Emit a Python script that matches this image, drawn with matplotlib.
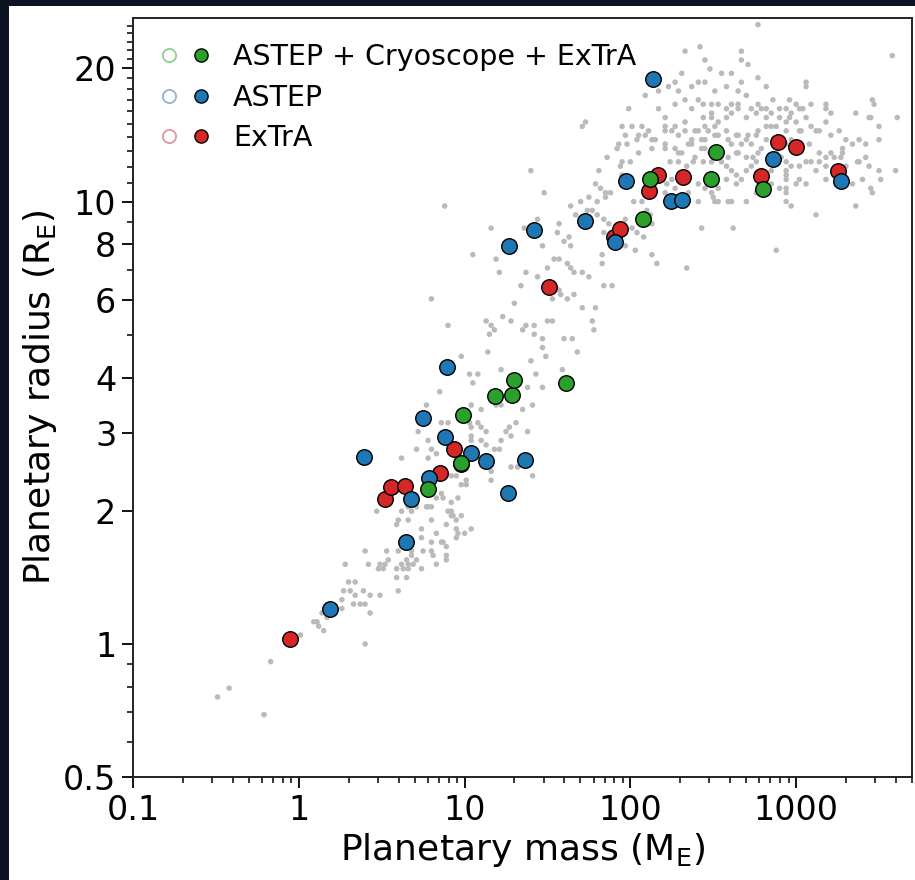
import numpy as np
import matplotlib
matplotlib.use("Agg")
import matplotlib.pyplot as plt
from matplotlib.lines import Line2D
from matplotlib.legend_handler import HandlerTuple
from matplotlib.patches import Rectangle
from matplotlib.ticker import FixedLocator, LogLocator, NullFormatter

plt.rcParams['font.family'] = ['DejaVu Sans']
plt.rcParams['mathtext.default'] = 'regular'

# ---- follow-up samples (mass in Earth masses, radius in Earth radii) ----
both_mass = [6.0, 9.5, 9.8, 15.2, 19.4, 20.0, 40.8, 119, 131, 307, 327, 631]
both_radius = [2.24, 2.57, 3.29, 3.64, 3.65, 3.96, 3.88, 9.14, 11.25, 11.27, 12.94, 10.68]

astep_mass = [1.54, 4.46, 4.72, 2.49, 6.08, 9.58, 10.9, 13.4, 18.3, 23.3, 7.57, 5.62,
              7.84, 18.5, 26.4, 53.1, 80.5, 94.2, 175, 205, 137, 722, 1876]
astep_radius = [1.20, 1.70, 2.125, 2.64, 2.37, 2.55, 2.70, 2.59, 2.19, 2.61, 2.93, 3.24,
                4.22, 7.95, 8.64, 9.06, 8.09, 11.16, 10.05, 10.09, 18.9, 12.50, 11.16]

extra_mass = [0.882, 3.33, 3.60, 4.40, 7.08, 8.69, 32.2, 79.4, 86.3, 129, 146, 208,
              614, 774, 999, 1790]
extra_radius = [1.028, 2.125, 2.26, 2.27, 2.43, 2.76, 6.40, 8.33, 8.67, 10.55, 11.51, 11.35,
                11.45, 13.62, 13.27, 11.71]

# ---- known planets, (log10 mass, log10 radius) ----
grey_rocky = [
    (-0.49, -0.12), (-0.42, -0.10), (-0.21, -0.16), (-0.17, -0.04), (0.01, 0.02), (0.09, 0.05),
    (0.11, 0.05), (0.12, 0.04), (0.15, 0.03), (0.14, 0.07), (0.17, 0.06), (0.26, 0.08),
    (0.26, 0.10), (0.27, 0.12), (0.31, 0.12), (0.30, 0.14), (0.34, 0.14), (0.33, 0.09),
    (0.37, 0.09), (0.40, 0.09), (0.34, 0.11), (0.39, 0.12), (0.43, 0.11), (0.49, 0.11),
    (0.43, 0.07), (0.40, 0.00), (0.60, 0.12), (0.28, 0.18), (0.42, 0.18), (0.40, 0.21),
    (0.49, 0.18), (0.52, 0.18), (0.54, 0.19), (0.48, 0.17), (0.51, 0.17), (0.53, 0.21),
    (0.60, 0.21), (0.59, 0.17), (0.62, 0.18), (0.65, 0.19), (0.66, 0.18), (0.69, 0.18),
    (0.71, 0.19), (0.63, 0.17), (0.66, 0.17), (0.65, 0.15), (0.59, 0.15), (0.68, 0.21),
    (0.74, 0.17), (0.74, 0.24), (0.80, 0.23), (0.83, 0.25), (0.75, 0.21), (0.81, 0.20),
    (0.83, 0.18), (0.89, 0.19), (0.86, 0.23), (0.89, 0.22), (0.89, 0.27), (0.95, 0.28),
    (0.98, 0.29), (0.95, 0.26), (1.00, 0.25), (1.04, 0.26), (0.92, 0.30), (0.92, 0.29),
    (0.95, 0.24), (0.74, 0.26), (0.80, 0.28), (0.60, 0.28), (0.66, 0.28), (0.62, 0.30),
    (0.66, 0.31), (0.71, 0.31), (0.77, 0.31), (0.80, 0.31), (0.47, 0.30), (0.92, 0.32),
    (0.96, 0.33), (1.01, 0.36), (0.87, 0.33), (0.86, 0.34), (1.16, 0.37), (0.68, 0.20),
    (0.80, 0.21), (0.87, 0.23), (0.89, 0.20), (0.96, 0.25), (0.59, 0.27), (0.68, 0.30),
    (0.78, 0.31), (0.90, 0.30), (0.93, 0.29),
]

grey_neptunes = [
    (1.47, 0.67), (1.49, 0.65), (1.14, 0.66), (0.98, 0.65), (1.22, 0.62), (1.40, 0.64),
    (1.43, 0.61), (1.59, 0.62), (1.03, 0.61), (1.08, 0.61), (1.05, 0.59), (0.85, 0.57),
    (0.77, 0.54), (1.10, 0.53), (1.19, 0.54), (1.22, 0.54), (1.35, 0.53), (1.41, 0.54),
    (1.38, 0.58), (1.47, 0.58), (1.04, 0.54), (0.86, 0.50), (0.90, 0.50), (0.72, 0.48),
    (1.03, 0.50), (1.04, 0.49), (1.08, 0.50), (1.10, 0.49), (1.13, 0.48), (1.27, 0.49),
    (1.31, 0.50), (1.38, 0.48), (1.25, 0.48), (1.28, 0.47), (1.22, 0.46), (1.04, 0.47),
    (1.04, 0.46), (1.10, 0.46), (1.13, 0.45), (1.18, 0.44), (1.21, 0.44), (0.78, 0.46),
    (0.80, 0.44), (0.83, 0.43), (0.78, 0.42), (0.71, 0.44), (0.62, 0.42), (0.89, 0.38),
    (0.92, 0.38), (0.95, 0.38), (0.98, 0.36), (1.01, 0.37), (1.16, 0.39), (1.28, 0.40),
    (1.32, 0.40), (1.41, 0.38), (0.83, 0.33),
]

grey_subsaturns = [
    (0.88, 0.99), (1.16, 0.94), (1.36, 0.94), (1.44, 0.96), (1.57, 0.95), (1.64, 0.99),
    (1.70, 1.00), (1.67, 0.97), (1.74, 0.98), (1.47, 0.90), (1.60, 0.91), (1.63, 0.92),
    (1.64, 0.90), (1.05, 0.88), (1.19, 0.87), (1.21, 0.84), (1.37, 0.84), (1.44, 0.83),
    (1.50, 0.85), (1.54, 0.87), (1.57, 0.87), (1.62, 0.86), (1.64, 0.85), (1.66, 0.84),
    (1.75, 0.83), (1.83, 0.88), (1.83, 0.86), (1.84, 0.81), (1.89, 0.81), (0.80, 0.78),
    (1.34, 0.81), (1.30, 0.77), (1.53, 0.78), (1.58, 0.79), (1.62, 0.78), (1.66, 0.79),
    (1.71, 0.76), (1.79, 0.76), (0.90, 0.72), (1.13, 0.73), (1.16, 0.72), (1.18, 0.71),
    (1.23, 0.74), (1.28, 0.73), (1.35, 0.71), (1.37, 0.72), (1.42, 0.72), (1.50, 0.73),
    (1.53, 0.73), (1.15, 0.70), (1.42, 0.70), (1.47, 0.69), (1.60, 0.69), (1.65, 0.69),
    (1.77, 0.73), (1.78, 0.71), (1.68, 0.66), (1.71, 0.84), (1.57, 0.80), (1.56, 0.93),
]

grey_giants_inner = [
    (1.73, 1.18), (1.71, 1.17), (1.95, 1.17), (2.07, 1.17), (1.97, 1.15), (2.04, 1.14),
    (2.09, 1.15), (2.13, 1.14), (1.93, 1.13), (1.98, 1.13), (1.86, 1.10), (1.95, 1.09),
    (2.00, 1.09), (1.94, 1.08), (1.95, 1.06), (1.40, 1.07), (1.81, 1.07), (1.79, 1.04),
    (1.82, 1.03), (1.85, 1.02), (1.48, 1.02), (1.80, 1.00), (1.85, 1.01), (1.88, 1.02),
    (2.02, 1.00), (2.07, 1.00), (2.10, 0.98), (1.75, 1.01), (1.77, 0.98), (1.80, 0.97),
    (1.84, 0.96), (1.87, 0.95), (1.84, 0.93), (1.97, 0.96), (2.01, 0.94), (2.04, 0.93),
    (2.08, 0.92), (2.13, 0.95), (2.12, 0.97), (1.97, 0.90), (2.03, 0.89), (2.13, 0.88),
    (2.16, 0.86), (2.34, 0.85), (2.43, 0.94), (2.21, 1.17), (2.25, 1.16), (2.29, 1.15),
    (2.33, 1.16), (2.37, 1.14), (2.41, 1.16), (2.45, 1.14), (2.51, 1.17), (2.21, 1.12),
    (2.27, 1.12), (2.31, 1.11), (2.35, 1.13), (2.39, 1.10), (2.43, 1.12), (2.48, 1.11),
    (2.24, 1.09), (2.29, 1.09), (2.34, 1.08), (2.38, 1.09), (2.25, 1.05), (2.41, 1.04),
    (2.45, 1.03), (2.22, 1.04), (2.27, 1.03), (2.35, 1.02), (2.49, 1.02), (2.53, 1.00),
    (2.33, 0.99), (2.21, 1.02), (2.41, 1.00),
]

grey_giants_outer = [
    (2.44, 1.22), (2.49, 1.22), (2.53, 1.22), (2.58, 1.21), (2.61, 1.22), (2.44, 1.19),
    (2.49, 1.19), (2.53, 1.18), (2.58, 1.19), (2.61, 1.20), (2.65, 1.21), (2.70, 1.19),
    (2.73, 1.21), (2.76, 1.20), (2.82, 1.21), (2.85, 1.20), (2.86, 1.23), (2.90, 1.21),
    (2.94, 1.21), (3.00, 1.22), (3.04, 1.21), (3.09, 1.22), (3.18, 1.22), (3.21, 1.20),
    (3.36, 1.20), (3.45, 1.19), (3.50, 1.17), (3.61, 1.19), (3.47, 1.22), (3.00, 1.18),
    (3.03, 1.16), (3.12, 1.16), (3.18, 1.18), (2.94, 1.18), (2.88, 1.17), (2.82, 1.17),
    (2.77, 1.16), (2.71, 1.15), (2.65, 1.15), (2.59, 1.14), (2.53, 1.15), (2.47, 1.16),
    (2.43, 1.14), (2.61, 1.13), (2.67, 1.13), (2.73, 1.13), (2.79, 1.12), (2.65, 1.11),
    (2.70, 1.10), (2.74, 1.10), (2.59, 1.10), (2.45, 1.12), (2.44, 1.09), (2.49, 1.09),
    (2.55, 1.09), (2.58, 1.08), (2.61, 1.07), (2.64, 1.06), (2.70, 1.07), (2.73, 1.08),
    (2.76, 1.09), (2.91, 1.10), (2.94, 1.09), (2.94, 1.07), (2.97, 1.08), (3.02, 1.08),
    (3.06, 1.09), (3.09, 1.09), (3.14, 1.09), (3.18, 1.10), (3.23, 1.10), (3.28, 1.11),
    (3.18, 1.08), (2.94, 1.05), (3.02, 1.05), (3.06, 1.04), (2.90, 1.03), (2.94, 1.03),
    (2.85, 1.07), (2.67, 1.05), (2.64, 1.04), (2.58, 1.05), (2.53, 1.03), (2.50, 1.01),
    (2.51, 1.00), (2.59, 1.00), (2.61, 1.00), (2.70, 1.00), (2.76, 1.02), (2.97, 0.99),
    (3.12, 0.97), (3.36, 0.99), (3.18, 1.05), (3.24, 1.04), (3.34, 1.04), (3.40, 1.05),
    (3.51, 1.05), (3.50, 1.07), (3.60, 1.07), (3.45, 1.03), (3.46, 1.02), (3.42, 1.10),
    (3.38, 1.09), (3.44, 1.08), (2.62, 0.94), (2.88, 0.89),
]

grey_giants_top = [
    (2.77, 1.40), (3.58, 1.33), (2.33, 1.34), (2.42, 1.35), (2.67, 1.34), (2.67, 1.32),
    (2.45, 1.32), (2.48, 1.30), (2.55, 1.29), (2.61, 1.29), (2.67, 1.27), (2.71, 1.31),
    (2.31, 1.29), (2.27, 1.27), (2.23, 1.26), (2.29, 1.25), (2.37, 1.26), (2.41, 1.27),
    (2.45, 1.27), (2.51, 1.25), (2.58, 1.26), (2.65, 1.25), (2.70, 1.24), (2.77, 1.28),
    (2.82, 1.26), (3.06, 1.27), (3.06, 1.26), (2.09, 1.24), (2.17, 1.25), (1.99, 1.21),
    (3.46, 1.23), (3.44, 1.19), (3.50, 1.14), (3.18, 1.21), (3.02, 1.21), (2.97, 1.20),
    (2.96, 1.19), (2.17, 1.21), (2.21, 1.19), (2.27, 1.22), (2.33, 1.23), (2.37, 1.21),
    (2.41, 1.23), (2.49, 1.20), (2.65, 1.22), (2.77, 1.22), (2.82, 1.19), (2.85, 1.17),
    (2.90, 1.19), (2.94, 1.16), (3.02, 1.16), (3.06, 1.19), (3.09, 1.17), (3.14, 1.16),
    (3.21, 1.15), (3.26, 1.16), (3.30, 1.14), (3.34, 1.13), (3.38, 1.14), (3.42, 1.13),
    (2.01, 1.17), (2.05, 1.15), (2.11, 1.16), (2.15, 1.14), (2.21, 1.16), (2.27, 1.17),
    (2.33, 1.18), (2.39, 1.16), (2.45, 1.17), (2.51, 1.15), (2.58, 1.16), (2.64, 1.15),
    (2.70, 1.14), (2.76, 1.15), (2.82, 1.14), (2.88, 1.11), (2.94, 1.13), (2.97, 1.14),
    (2.05, 1.11), (2.13, 1.12), (2.21, 1.13), (2.29, 1.11), (2.37, 1.13), (2.64, 1.11),
    (2.77, 1.11), (3.08, 1.13), (3.14, 1.11), (3.21, 1.11), (3.28, 1.12), (1.92, 1.12),
    (3.37, 1.09), (3.27, 1.10), (3.30, 1.08), (2.94, 1.06), (3.00, 1.04), (3.12, 1.07),
    (2.85, 1.04), (2.94, 1.02), (2.94, 1.00), (2.96, 1.23), (2.79, 1.21),
]

x_ticks = [0.1, 1, 10, 100, 1000]
x_ticklabels = ['0.1', '1', '10', '100', '1000']
y_ticks = [0.5, 1, 2, 3, 4, 6, 8, 10, 20]
y_ticklabels = ['0.5', '1', '2', '3', '4', '6', '8', '10', '20']
y_minor = [0.6, 0.7, 0.8, 0.9, 5, 7, 9] + list(range(11, 20)) + list(range(21, 26))

GREEN = '#2ca02c'
BLUE = '#1f77b4'
RED = '#d62728'

fig = plt.figure(figsize=(9.15, 8.8), dpi=100)
fig.patch.set_facecolor('#0c1222')
# white panel the chart sits on
fig.patches.append(Rectangle((9 / 915, 0), 1, 874 / 880, transform=fig.transFigure,
                             facecolor='white', edgecolor='none', zorder=-10))

ax = fig.add_axes([0.1454, 0.117, 0.8513, 0.8625])
ax.set_zorder(1)

known = np.array(grey_rocky + grey_neptunes + grey_subsaturns + grey_giants_inner
                 + grey_giants_outer + grey_giants_top)
ax.scatter(10 ** known[:, 0], 10 ** known[:, 1], s=16, color='#bababa',
           edgecolors='none', zorder=1)

ax.scatter(extra_mass, extra_radius, s=125, color=RED, edgecolors='black',
           linewidths=1, zorder=3)
ax.scatter(astep_mass, astep_radius, s=125, color=BLUE, edgecolors='black',
           linewidths=1, zorder=4)
ax.scatter(both_mass, both_radius, s=125, color=GREEN, edgecolors='black',
           linewidths=1, zorder=5)

ax.set_xscale('log')
ax.set_yscale('log')
ax.set_xlim(0.1, 5000)
ax.set_ylim(0.5, 26)

ax.xaxis.set_major_locator(FixedLocator(x_ticks))
ax.set_xticklabels(x_ticklabels)
ax.xaxis.set_minor_locator(LogLocator(base=10, subs=np.arange(2, 10)))
ax.xaxis.set_minor_formatter(NullFormatter())
ax.yaxis.set_major_locator(FixedLocator(y_ticks))
ax.set_yticklabels(y_ticklabels)
ax.yaxis.set_minor_locator(FixedLocator(y_minor))
ax.yaxis.set_minor_formatter(NullFormatter())

ax.tick_params(which='major', length=8, width=1.3, labelsize=24, pad=4)
ax.tick_params(which='minor', length=4.5, width=1.1)
for sp in ax.spines.values():
    sp.set_linewidth(1.4)
    sp.set_color('#222222')

ax.set_xlabel('Planetary mass (M$_\\mathrm{E}$)', fontsize=26, labelpad=3)
ax.set_ylabel('Planetary radius (R$_\\mathrm{E}$)', fontsize=26, labelpad=3)

handles = []
for col, pale in [(GREEN, '#8fcf8f'), (BLUE, '#8fb3d4'), (RED, '#d99a9b')]:
    open_m = Line2D([], [], marker='o', ls='', ms=9.5, mfc='white', mec=pale, mew=1.3)
    full_m = Line2D([], [], marker='o', ls='', ms=9.5, mfc=col, mec='black', mew=1)
    handles.append((open_m, full_m))
ax.legend(handles, ['ASTEP + Cryoscope + ExTrA', 'ASTEP', 'ExTrA'],
          handler_map={tuple: HandlerTuple(ndivide=None, pad=0)},
          loc='upper left', bbox_to_anchor=(0, 0.993), frameon=False, fontsize=20.5,
          handlelength=2.25, handletextpad=0.56, labelspacing=0.43,
          borderaxespad=0.35, borderpad=0.35)

fig.savefig('out.png', dpi=100, facecolor=fig.get_facecolor())
